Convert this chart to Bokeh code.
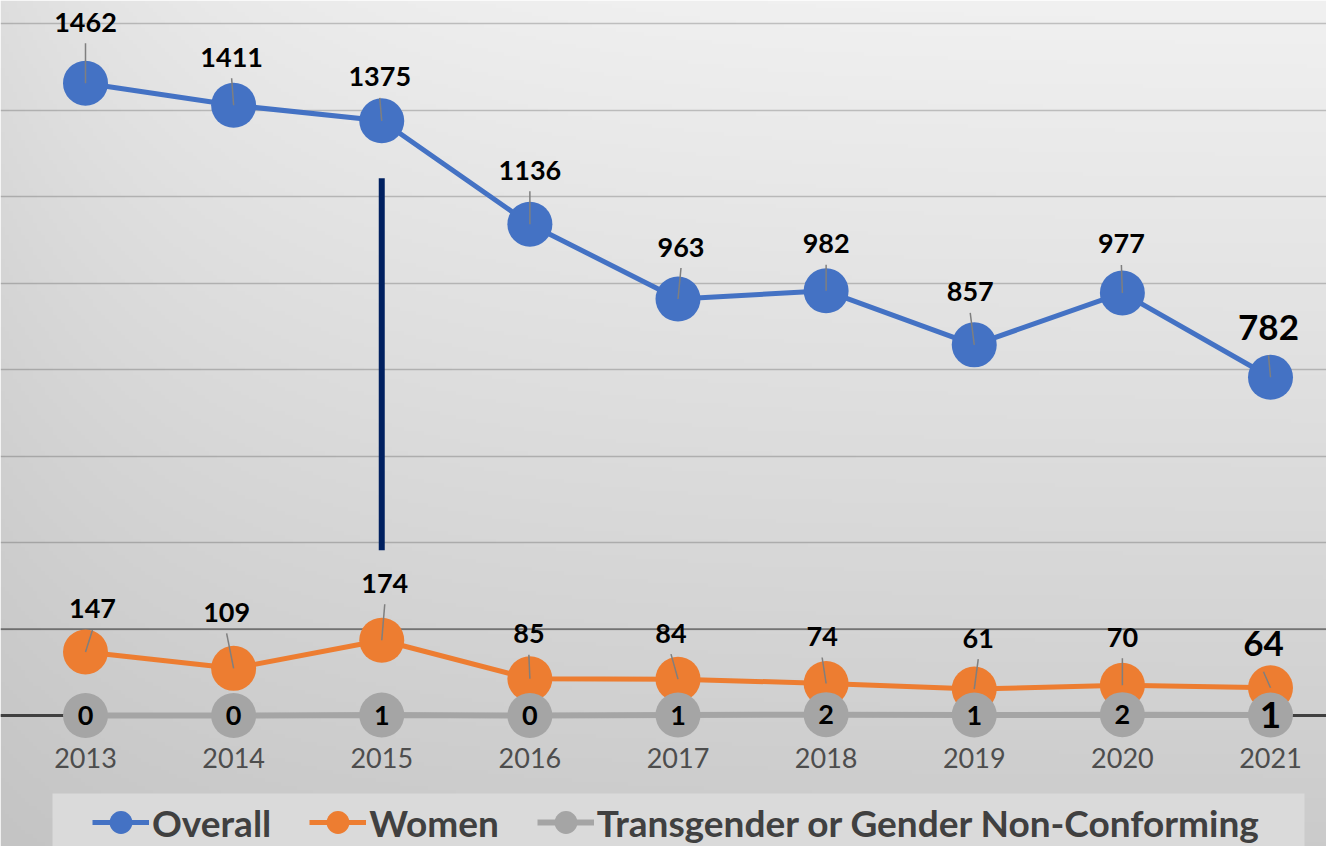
import numpy as np
from bokeh.plotting import figure
from bokeh.models import (ColumnDataSource, FixedTicker, Legend, LegendItem,
                          Span, BoxAnnotation)
from bokeh.embed import file_html
from bokeh.resources import INLINE
from bokeh.core.properties import value

# ---------------- data ----------------
years = [2013, 2014, 2015, 2016, 2017, 2018, 2019, 2020, 2021]
overall = [1462, 1411, 1375, 1136, 963, 982, 857, 977, 782]
women = [147, 109, 174, 85, 84, 74, 61, 70, 64]
tgnc = [0, 0, 1, 0, 1, 2, 1, 2, 1]
grid_values = [0, 200, 400, 600, 800, 1000, 1200, 1400, 1600]
annot_year = 2015
annot_low, annot_high = 382, 1242

# ---------------- styling / layout ----------------
W, H = 1326, 846
PX_PER_YEAR = 148.125
PX_PER_UNIT = 0.4325
X0_PX = 85          # pixel of first year
BASE_PX = 715       # pixel of value 0 from top
YEAR_LABEL_PX = 42  # year labels below the baseline

x_start = years[0] - X0_PX / PX_PER_YEAR
x_end = x_start + W / PX_PER_YEAR
y_end = BASE_PX / PX_PER_UNIT
y_start = -(H - BASE_PX) / PX_PER_UNIT

# label offsets in pixels (dx right, dy up)
overall_dx = [0, -2, -2, 0, 3, 0, -4, -1, -2]
overall_dy = [61, 48, 44, 54, 52, 47, 53, 49, 50]
women_dx = [7, -7, 3, -1, -7, -4, 4, 0, -7]
women_dy = [43, 56, 57, 45, 46, 47, 51, 48, 44]

FONT = "Lato"
BLUE, ORANGE, GRAY = "#4472C4", "#ED7D31", "#A5A5A5"

p = figure(frame_width=W, frame_height=H, output_backend="svg",
           toolbar_location=None,
           x_range=(x_start, x_end), y_range=(y_start, y_end),
           min_border_left=0, min_border_right=0, min_border_top=0,
           min_border_bottom=0)
p.outline_line_color = None
p.border_fill_color = "#cdcdcd"
p.xaxis.visible = False
p.yaxis.visible = False
p.xgrid.visible = False
p.ygrid.ticker = FixedTicker(ticks=grid_values)
p.ygrid.grid_line_color = "black"
p.ygrid.grid_line_alpha = 0.2
p.ygrid.grid_line_width = 1.5

# background gradient (light top-right, darker to the left and bottom)
ny, nx = 212, 332
yy = np.linspace(H, 0, ny)[:, None]      # row 0 = bottom of canvas
xx = np.linspace(0, W, nx)[None, :]
t = yy / H
g = (241 - 38 * t) - (19 - 12 * t) * np.exp(-xx / 260.0)
g = np.clip(g, 0, 255).astype(np.uint8)
img = np.empty((ny, nx), dtype=np.uint32)
view = img.view(dtype=np.uint8).reshape((ny, nx, 4))
view[:, :, 0] = g
view[:, :, 1] = g
view[:, :, 2] = g
view[:, :, 3] = 255
p.image_rgba(image=[img], x=x_start, y=y_start, dw=x_end - x_start,
             dh=y_end - y_start, level="image")

p.add_layout(Span(location=grid_values[1], dimension="width",
                  line_color="black", line_alpha=0.42, line_width=1.5,
                  level="underlay"))
p.add_layout(Span(location=0, dimension="width", line_color="#404040",
                  line_width=3, level="underlay"))

# annotation line
p.segment(x0=[annot_year], y0=[annot_low], x1=[annot_year], y1=[annot_high],
          line_color="#002060", line_width=6)

src = ColumnDataSource(dict(year=years, overall=overall, women=women, tgnc=tgnc))

l1 = p.line("year", "overall", source=src, line_color=BLUE, line_width=5)
s1 = p.scatter("year", "overall", source=src, size=45, fill_color=BLUE,
               line_color=None)
l2 = p.line("year", "women", source=src, line_color=ORANGE, line_width=5)
s2 = p.scatter("year", "women", source=src, size=45, fill_color=ORANGE,
               line_color=None)
l3 = p.line("year", "tgnc", source=src, line_color=GRAY, line_width=6)
s3 = p.scatter("year", "tgnc", source=src, size=45, fill_color=GRAY,
               line_color=None)

# data labels + leader lines
def label_table(vals, dx, dy):
    n = len(vals)
    big = [i == n - 1 for i in range(n)]
    lx = [years[i] + dx[i] / PX_PER_YEAR for i in range(n)]
    ly = [vals[i] + dy[i] / PX_PER_UNIT for i in range(n)]
    drop = [(28 if big[i] else 21) / PX_PER_UNIT for i in range(n)]
    return dict(
        lx=lx, ly=ly, text=[str(v) for v in vals],
        fs=["35px" if b else "27px" for b in big],
        x0=lx, y0=[ly[i] - drop[i] for i in range(n)],
        x1=years, y1=vals)

for vals, dx, dy in ((overall, overall_dx, overall_dy),
                     (women, women_dx, women_dy)):
    tsrc = ColumnDataSource(label_table(vals, dx, dy))
    p.segment("x0", "y0", "x1", "y1", source=tsrc, line_color="#7f7f7f",
              line_width=1.5)
    p.text("lx", "ly", text="text", source=tsrc, text_font=value(FONT),
           text_font_style="bold", text_font_size="fs", text_color="black",
           text_align="center", text_baseline="middle")

tg = ColumnDataSource(dict(
    x=years, y=tgnc, text=[str(v) for v in tgnc],
    fs=["27px"] * (len(tgnc) - 1) + ["37px"]))
p.text("x", "y", text="text", source=tg, text_font=value(FONT),
       text_font_style="bold", text_font_size="fs", text_color="black",
       text_align="center", text_baseline="middle")

# category (year) labels under the baseline
yl = ColumnDataSource(dict(x=years, y=[-YEAR_LABEL_PX / PX_PER_UNIT] * len(years),
                           text=[str(y) for y in years]))
p.text("x", "y", text="text", source=yl, text_font=value(FONT),
       text_font_size="27px", text_color="#4d4d4d",
       text_align="center", text_baseline="middle")

# legend box + legend
p.add_layout(BoxAnnotation(left=52, right=1304, top=793, bottom=846,
                           left_units="canvas", right_units="canvas",
                           top_units="canvas", bottom_units="canvas",
                           fill_color="#dadada", fill_alpha=1,
                           line_color=None))

legend = Legend(items=[
    LegendItem(label="Overall", renderers=[l1, s1]),
    LegendItem(label="Women", renderers=[l2, s2]),
    LegendItem(label="Transgender or Gender Non-Conforming", renderers=[l3, s3]),
], orientation="horizontal", location=(92, -8))
legend.glyph_width = 57
legend.glyph_height = 64
legend.label_height = 64
legend.label_standoff = 3
legend.spacing = 38
legend.padding = 10
legend.margin = 0
legend.background_fill_alpha = 0
legend.border_line_color = None
legend.label_text_font = FONT
legend.label_text_font_style = "bold"
legend.label_text_font_size = "37px"
legend.label_text_color = "#404040"
p.add_layout(legend, "center")

open("out.html", "w").write(file_html(p, INLINE))
